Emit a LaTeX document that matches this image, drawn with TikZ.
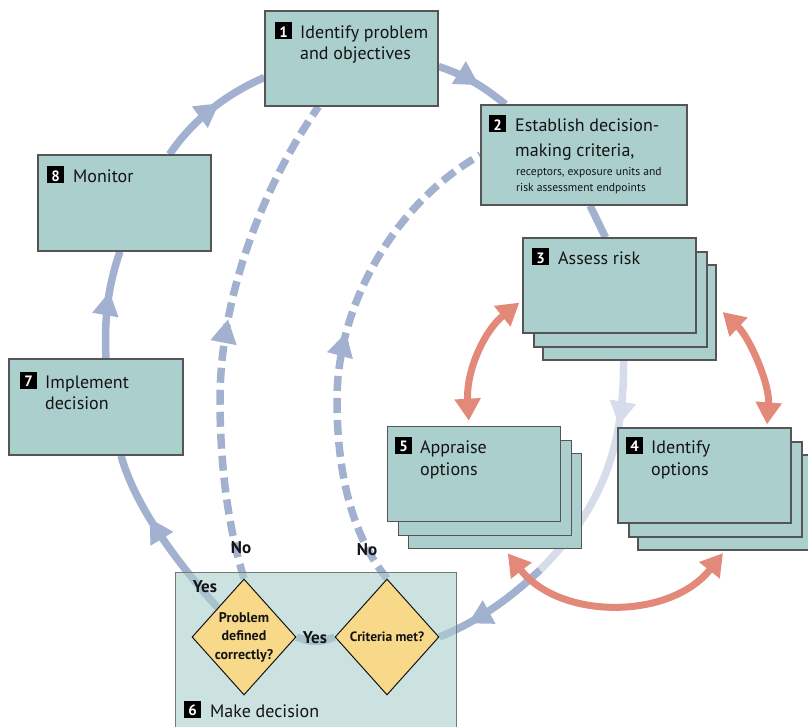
\documentclass[tikz,border=0pt]{standalone}
\usepackage{fontspec}
\setmainfont{PT Sans}
\usetikzlibrary{arrows.meta,decorations.markings,shapes.geometric,calc,backgrounds}

\definecolor{boxfill}{RGB}{170,207,204}
\definecolor{boxline}{RGB}{85,85,85}
\definecolor{loopblue}{RGB}{163,177,208}
\definecolor{paleblue}{RGB}{214,220,234}
\definecolor{salmon}{RGB}{227,137,121}
\definecolor{diafill}{RGB}{248,217,138}
\definecolor{ink}{RGB}{20,20,20}

\newcommand\badge[1]{\rlap{\textcolor{black}{\rule[-0.5pt]{17pt}{17pt}}}\makebox[17pt]{\raisebox{1.5pt}{\color{white}\bfseries\fontsize{15}{15}\selectfont #1}}}

\tikzset{
  box/.style={draw=boxline, fill=boxfill, line width=1.2pt, minimum width=173pt, minimum height=95pt, inner sep=0pt},
  lbl/.style={anchor=base west, inner sep=0pt, font=\fontsize{18}{21}\selectfont, text=ink},
  sublbl/.style={anchor=base west, inner sep=0pt, font=\fontsize{11.6}{15.7}\selectfont, text=ink},
  yn/.style={inner sep=0pt, font=\bfseries\fontsize{17}{20}\selectfont, text=ink},
  loopline/.style={draw=loopblue, line width=7.5pt},
  dashloop/.style={loopline, dash pattern=on 15pt off 7pt},
  paleline/.style={draw=paleblue, line width=7.5pt},
  midarrow/.style={postaction={decorate}, decoration={markings, mark=at position #1 with {\arrow[loopblue]{Triangle[length=24pt,width=25pt]}}}},
  palearrow/.style={postaction={decorate}, decoration={markings, mark=at position #1 with {\arrow[paleblue]{Triangle[length=24pt,width=25pt]}}}},
  redarrow/.style={draw=salmon, line width=7pt, {Triangle[length=22pt,width=25pt]}-{Triangle[length=22pt,width=25pt]}},
  dia/.style={diamond, draw=ink, fill=diafill, line width=1pt, minimum width=104pt, minimum height=116pt, inner sep=0pt},
  dtext/.style={align=center, inner sep=0pt, font=\bfseries\fontsize{14}{18.5}\selectfont, text=ink},
}

\begin{document}
\begin{tikzpicture}[x=1pt,y=-1pt]
\useasboundingbox (0,0) rectangle (808,727);

% boxes
\node[box] (b1) at (351.5,58.5) {};
\node[box, minimum width=206pt, minimum height=100pt] (b2) at (584,155) {};
\node[box] (b3c) at (629.5,312.5) {};
\node[box] (b3b) at (620.5,299.5) {};
\node[box] (b3) at (609.5,285.5) {};
\node[box] (b5c) at (494.8,500.8) {};
\node[box] (b5b) at (484.8,487.8) {};
\node[box] (b5) at (473.8,473.8) {};
\node[box] (b4c) at (724.5,502.5) {};
\node[box] (b4b) at (715.5,489.5) {};
\node[box] (b4) at (704.5,475.5) {};
\node[box, minimum height=96pt] (b8) at (124.5,203) {};
\node[box, minimum width=174pt, minimum height=96pt] (b7) at (96,407) {};
\node[draw=boxline!80, fill=boxfill, fill opacity=0.6, line width=1.2pt, minimum width=281pt, minimum height=175pt, inner sep=0pt, anchor=north west] (b6) at (175,572) {};

% diamonds
\node[dia] (d1) at (244,637) {};
\node[dia] (d2) at (387,637) {};
\node[dtext] (q1) at (d1) {Problem\\defined\\correctly?};
\node[dtext, font=\bfseries\fontsize{13.5}{18.5}\selectfont] (q2) at (d2) {Criteria met?};

% labels
\node[lbl] (t1) at (275,39) {\begin{tabular}[t]{@{}l@{\hspace{8pt}}l@{}}\badge{1}&Identify problem\\&and objectives\end{tabular}};
\node[lbl] (t2) at (489,132) {\begin{tabular}[t]{@{}l@{\hspace{9pt}}l@{}}\badge{2}&Establish decision-\\[4pt]&making criteria,\end{tabular}};
\node[sublbl] (t2s) at (516,176) {\begin{tabular}[t]{@{}l@{}}receptors, exposure units and\\risk assessment endpoints\end{tabular}};
\node[lbl] (t3) at (532,265) {\begin{tabular}[t]{@{}l@{\hspace{9pt}}l@{}}\badge{3}&Assess risk\end{tabular}};
\node[lbl] (t5) at (395,453) {\begin{tabular}[t]{@{}l@{\hspace{8pt}}l@{}}\badge{5}&Appraise\\[1pt]&options\end{tabular}};
\node[lbl] (t4) at (626,453) {\begin{tabular}[t]{@{}l@{\hspace{8pt}}l@{}}\badge{4}&Identify\\[1pt]&options\end{tabular}};
\node[lbl] (t8) at (47,183) {\begin{tabular}[t]{@{}l@{\hspace{9pt}}l@{}}\badge{8}&Monitor\end{tabular}};
\node[lbl] (t7) at (20,388) {\begin{tabular}[t]{@{}l@{\hspace{8pt}}l@{}}\badge{7}&Implement\\&decision\end{tabular}};
\node[lbl] (t6) at (184,717) {\begin{tabular}[t]{@{}l@{\hspace{9pt}}l@{}}\badge{6}&Make decision\end{tabular}};

\node[yn] (no1) at (241,548) {No};
\node[yn] (no2) at (367,550) {No};
\node[yn] (yes1) at (205,587) {Yes};
\node[yn] (yes2) at (315,638) {Yes};

\begin{scope}[on background layer]
  % main loop
  \draw[loopline, midarrow=0.58] ($(b1.east)+(0,8)$) .. controls +(27,9) and +(-22,-18) .. ($(b2.north west)+(25,0)$);
  \draw[loopline] ($(b2.south)+(6,0)$) -- ($(b3.north)+(-4,0)$);
  \coordinate (m6) at (540,570);
  \draw[paleline, palearrow=0.28] ($(b3c.south)+(-6,0)$) .. controls +(1,89) and +(60,-60) .. (m6);
  \draw[loopline, midarrow=0.74] (m6) .. controls +(-30,28) and +(41,-17) .. (d2.east);
  \draw[loopline] (d2.west) .. controls +(-15,6) and +(15,6) .. (d1.east);
  \draw[loopline, midarrow=0.62] (d1.north west) .. controls +(-43,-48) and +(14,50) .. ($(b7.south)+(25,0)$);
  \draw[loopline, midarrow=0.62] ($(b7.north)+(10,0)$) .. controls +(-2,-39) and +(-12,34) .. ($(b8.south)+(-4.5,0)$);
  \draw[loopline, midarrow=0.58] ($(b8.north)+(45,0)$) .. controls +(25,-37) and +(-35,15) .. ($(b1.west)+(0,19)$);
  % No branches
  \draw[dashloop, midarrow=0.53] (d2.north) .. controls +(-32,-39) and +(0,80) .. (337,400) .. controls +(0,-100) and +(-81,45) .. (b2.west);
  \draw[dashloop, midarrow=0.53] (d1.north) .. controls +(-12,-39) and +(0,80) .. (220,400) .. controls +(0,-100) and +(-58,83) .. ($(b1.south)+(-33,0)$);
\end{scope}

% red double arrows
\draw[redarrow] ($(b3.south west)+(-3,-31)$) .. controls (485,330) and (466,370) .. ($(b5.north)+(-5,-5)$);
\draw[redarrow] ($(b3.east)+(26,26.5)$) .. controls (750,338) and (770,385) .. ($(b4.north)+(62.5,-3)$);
\draw[redarrow] ($(b5c.south)+(13,4.5)$) .. controls (560,620) and (670,620) .. ($(b4c.south)+(-1.5,2.5)$);
\end{tikzpicture}
\end{document}
